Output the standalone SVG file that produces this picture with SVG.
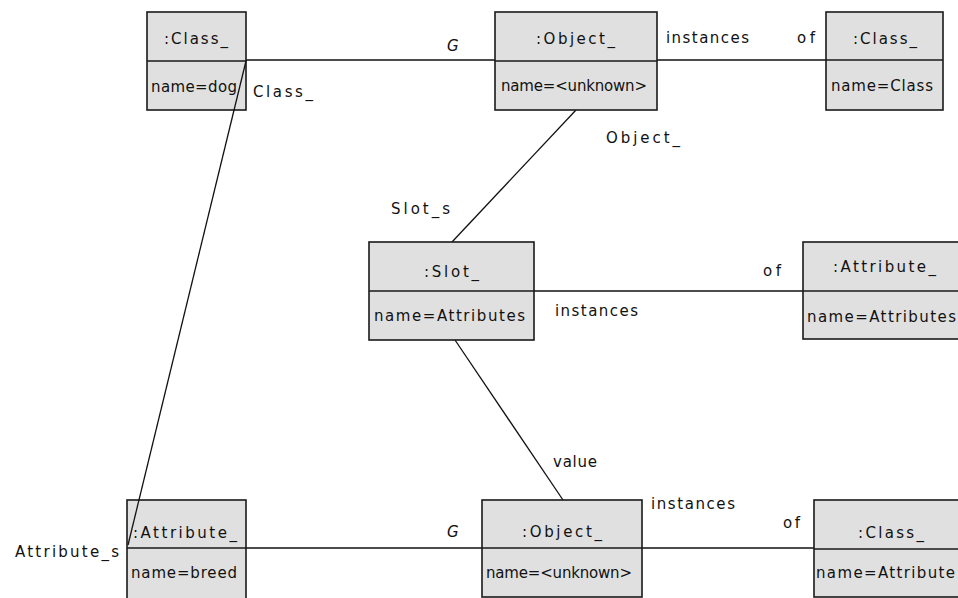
<svg xmlns="http://www.w3.org/2000/svg" width="958" height="598" viewBox="0 0 958 598">
<style>
.box{fill:#e0e0e0;stroke:#1a1a1a;stroke-width:1.6}
.div{stroke:#1a1a1a;stroke-width:1.6}
.con{stroke:#111;stroke-width:1.3;fill:none}
text{font-family:"DejaVu Sans","Liberation Sans",sans-serif;font-size:15px;fill:#111}
.g{font-style:italic}
</style>
<rect x="0" y="0" width="958" height="598" fill="#ffffff"/>
<g id="connectors">
<line class="con" x1="246" y1="60" x2="495" y2="60"/>
<line class="con" x1="657" y1="60" x2="826" y2="60"/>
<line class="con" x1="576" y1="110" x2="452" y2="242"/>
<line class="con" x1="534" y1="291" x2="803" y2="291"/>
<line class="con" x1="455" y1="340" x2="563" y2="500"/>
<line class="con" x1="246" y1="548" x2="482" y2="548"/>
<line class="con" x1="642" y1="548" x2="814" y2="548"/>
<text class="g" x="447" y="51">G</text>
<text x="253" y="97" textLength="60">Class_</text>
<text x="666" y="43" textLength="83">instances</text>
<text x="797" y="43" textLength="18">of</text>
<text x="606" y="143" textLength="74">Object_</text>
<text x="391" y="214" textLength="59">Slot_s</text>
<text x="763" y="276" textLength="18">of</text>
<text x="555" y="316" textLength="83">instances</text>
<text x="553" y="467" textLength="44">value</text>
<text x="651" y="509" textLength="84">instances</text>
<text x="783" y="528" textLength="17">of</text>
<text class="g" x="447" y="537">G</text>
<text x="15" y="557" textLength="104">Attribute_s</text>
</g>
<g id="n_class_dog">
<rect class="box" x="147" y="12" width="99" height="98"/>
<line class="div" x1="147" y1="61" x2="246" y2="61"/>
<text x="164" y="44" textLength="64">:Class_</text>
<text x="151" y="92" textLength="86">name=dog</text>
</g>
<g id="n_object_top">
<rect class="box" x="495" y="12" width="162" height="98"/>
<line class="div" x1="495" y1="61" x2="657" y2="61"/>
<text x="536" y="44" textLength="79">:Object_</text>
<text x="501" y="91" textLength="146">name=&lt;unknown&gt;</text>
</g>
<g id="n_class_class">
<rect class="box" x="826" y="12" width="117" height="98"/>
<line class="div" x1="826" y1="60" x2="943" y2="60"/>
<text x="853" y="44" textLength="64">:Class_</text>
<text x="831" y="91" textLength="102">name=Class</text>
</g>
<g id="n_slot">
<rect class="box" x="369" y="242" width="165" height="98"/>
<line class="div" x1="369" y1="291" x2="534" y2="291"/>
<text x="424" y="277" textLength="55">:Slot_</text>
<text x="374" y="321" textLength="151">name=Attributes</text>
</g>
<g id="n_attribute_attributes">
<rect class="box" x="803" y="242" width="170" height="97"/>
<line class="div" x1="803" y1="291" x2="973" y2="291"/>
<text x="833" y="272" textLength="103">:Attribute_</text>
<text x="807" y="322" textLength="149">name=Attributes</text>
</g>
<g id="n_attribute_breed">
<rect class="box" x="127" y="500" width="119" height="100"/>
<line class="div" x1="127" y1="548" x2="246" y2="548"/>
<text x="133" y="538" textLength="104">:Attribute_</text>
<text x="131" y="578" textLength="106">name=breed</text>
</g>
<g id="n_object_bottom">
<rect class="box" x="482" y="500" width="160" height="97"/>
<line class="div" x1="482" y1="548" x2="642" y2="548"/>
<text x="522" y="537" textLength="80">:Object_</text>
<text x="486" y="578" textLength="146">name=&lt;unknown&gt;</text>
</g>
<g id="n_class_attribute">
<rect class="box" x="814" y="500" width="160" height="97"/>
<line class="div" x1="814" y1="549" x2="974" y2="549"/>
<text x="858" y="538" textLength="66">:Class_</text>
<text x="816" y="578" textLength="139">name=Attribute</text>
</g>
<g id="connectors_over">
<line class="con" x1="246" y1="61" x2="128" y2="545"/>
</g>
</svg>
